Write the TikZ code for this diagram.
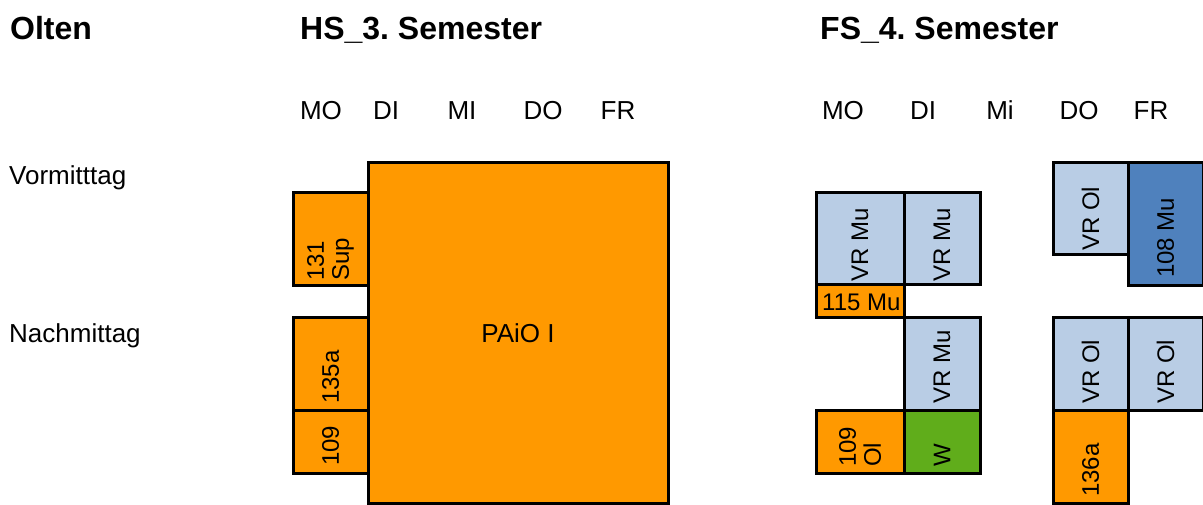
\documentclass[tikz,border=0pt]{standalone}
\usepackage{fontspec}
\setmainfont{Liberation Sans}
\frenchspacing
\definecolor{corange}{HTML}{FF9900}
\definecolor{clblue}{HTML}{B9CDE5}
\definecolor{cdblue}{HTML}{4F81BD}
\definecolor{cgreen}{HTML}{60AD1B}
\begin{document}
\begin{tikzpicture}[x=1pt,y=-1pt,
  box/.style={draw=black,line width=3pt},
  title/.style={anchor=base west,font=\fontsize{32}{36}\selectfont\bfseries,inner sep=0pt},
  lbl/.style={anchor=base west,font=\fontsize{26}{30}\selectfont,inner sep=0pt},
  day/.style={anchor=base,font=\fontsize{26}{30}\selectfont,inner sep=0pt},
  vt/.style={rotate=90,anchor=west,align=left,font=\fontsize{24}{25}\selectfont,inner sep=0pt},
  ht/.style={anchor=base west,font=\fontsize{24}{26}\selectfont,inner sep=0pt}]
\useasboundingbox (0,0) rectangle (1203,505);
% titles
\node[title] (olten) at (10,40) {Olten};
\node[title] (hs) at (300,40) {HS\_3. Semester};
\node[title] (fs) at (820,40) {FS\_4. Semester};
% days
\node[day] (d1) at (321,120) {MO};
\node[day] (d2) at (386,120) {DI};
\node[day] (d3) at (462,120) {MI};
\node[day] (d4) at (543,120) {DO};
\node[day] (d5) at (618,120) {FR};
\node[day] (e1) at (843,120) {MO};
\node[day] (e2) at (923,120) {DI};
\node[day] (e3) at (1000,120) {Mi};
\node[day] (e4) at (1079,120) {DO};
\node[day] (e5) at (1151,120) {FR};
% row labels
\node[lbl] (vm) at (9,185) {Vormitttag};
\node[lbl] (nm) at (9,342) {Nachmittag};
% HS boxes
\draw[box,fill=corange] (368,163) rectangle (668,503);
\node[font=\fontsize{26}{30}\selectfont] (paio) at (518,333) {PAiO I};
\draw[box,fill=corange] (293,193) rectangle (368,286);
\node[vt] (s131) at (330.5,281) {131\\Sup};
\draw[box,fill=corange] (293,318) rectangle (368,410);
\node[vt] (s135) at (330.5,404) {135a};
\draw[box,fill=corange] (293,410) rectangle (368,473);
\node[vt] (s109) at (330.5,466) {109};
% FS boxes
\draw[box,fill=clblue] (816,193) rectangle (904,285);
\node[vt] (vr1) at (860,282) {VR Mu};
\draw[box,fill=clblue] (904,193) rectangle (980,285);
\node[vt] (vr2) at (942,282) {VR Mu};
\draw[box,fill=corange] (816,285) rectangle (904,318);
\node[ht] (m115) at (822,310) {115 Mu};
\draw[box,fill=clblue] (904,318) rectangle (980,410);
\node[vt] (vr3) at (942,404) {VR Mu};
\draw[box,fill=corange] (816,410) rectangle (904,473);
\node[vt] (f109) at (860,467) {109\\Ol};
\draw[box,fill=cgreen] (904,410) rectangle (980,473);
\node[vt] (w) at (942,467) {W};
\draw[box,fill=clblue] (1053,163) rectangle (1128,255);
\node[vt] (vo1) at (1090.5,251) {VR Ol};
\draw[box,fill=cdblue] (1128,163) rectangle (1203,286);
\node[vt] (m108) at (1165.5,278) {108 Mu};
\draw[box,fill=clblue] (1053,318) rectangle (1128,410);
\node[vt] (vo2) at (1090.5,404) {VR Ol};
\draw[box,fill=clblue] (1128,318) rectangle (1203,410);
\node[vt] (vo3) at (1165.5,404) {VR Ol};
\draw[box,fill=corange] (1053,410) rectangle (1128,503);
\node[vt] (s136) at (1090.5,497) {136a};
\end{tikzpicture}
\end{document}
